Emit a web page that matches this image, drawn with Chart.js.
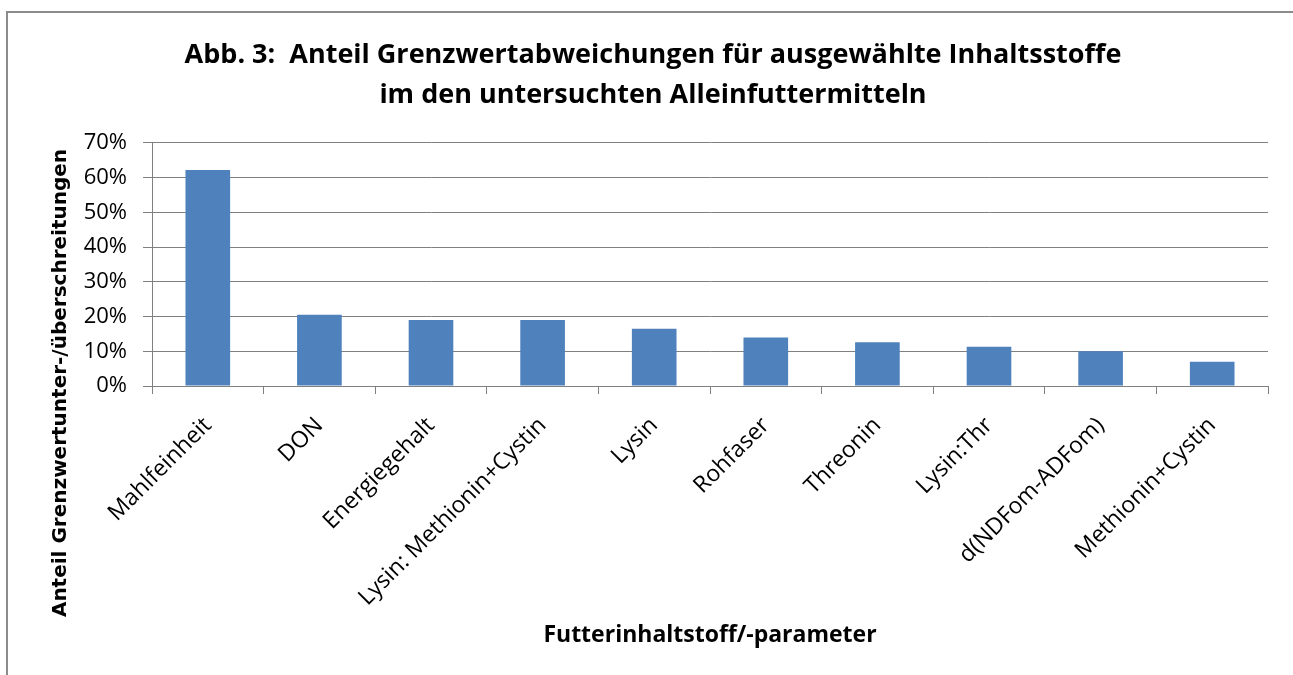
<!DOCTYPE html>
<html>
<head>
<meta charset="utf-8">
<script src="https://cdn.jsdelivr.net/npm/chart.js@4/dist/chart.umd.min.js"></script>
<style>
  html, body { margin: 0; padding: 0; background: #fff; }
  #wrap { width: 1293px; height: 675px; }
</style>
</head>
<body>
<div id="wrap"><canvas id="chart"></canvas></div>
<script>
var titleLines = [
  "Abb. 3:  Anteil Grenzwertabweichungen für ausgewählte Inhaltsstoffe",
  "im den untersuchten Alleinfuttermitteln"
];
var yTitle = "Anteil Grenzwertunter-/überschreitungen";
var xTitle = "Futterinhaltstoff/-parameter";

var categories = [
  "Mahlfeinheit",
  "DON",
  "Energiegehalt",
  "Lysin: Methionin+Cystin",
  "Lysin",
  "Rohfaser",
  "Threonin",
  "Lysin:Thr",
  "d(NDFom-ADFom)",
  "Methionin+Cystin"
];
var shares = [62.2, 20.5, 19.0, 19.0, 16.5, 14.0, 12.6, 11.3, 10.0, 7.0];

var yMin = 0, yMax = 70, yStep = 10;

var gridGray = "#808080";

// frame round the chart and the y title (centred over plot + labels like Excel)
var extras = {
  id: "extras",
  afterDraw: function(chart) {
    var ctx = chart.ctx;
    ctx.save();
    ctx.strokeStyle = "#8c8c8c";
    ctx.lineWidth = 2;
    ctx.beginPath();
    ctx.moveTo(7, 675);
    ctx.lineTo(7, 12);
    ctx.lineTo(1293, 12);
    ctx.stroke();

    ctx.translate(61, 383);
    ctx.rotate(-Math.PI / 2);
    ctx.fillStyle = "#000";
    ctx.font = "bold 20px 'DejaVu Sans'";
    ctx.textAlign = "center";
    ctx.textBaseline = "middle";
    ctx.fillText(yTitle, 0, 0);
    ctx.restore();
  }
};

var ctx = document.getElementById("chart").getContext("2d");
new Chart(ctx, {
  type: "bar",
  data: {
    labels: categories,
    datasets: [
      {
        data: shares,
        backgroundColor: "#4F81BD",
        borderWidth: 0,
        barPercentage: 0.4,
        categoryPercentage: 1
      }
    ]
  },
  plugins: [extras],
  options: {
    responsive: true,
    maintainAspectRatio: false,
    animation: false,
    layout: { padding: { left: 38, right: 25, top: 0, bottom: 0 } },
    plugins: {
      legend: { display: false },
      tooltip: { enabled: false },
      title: {
        display: true,
        text: titleLines,
        color: "#000",
        font: { family: "'Open Sans'", size: 27, weight: "bold", lineHeight: 1.48 },
        padding: { top: 35, bottom: 28 }
      }
    },
    scales: {
      x: {
        afterFit: function(scale) { scale.height = 289; },
        grid: {
          display: true,
          drawOnChartArea: false,
          drawTicks: true,
          tickLength: 8,
          offset: true,
          color: gridGray
        },
        border: { display: true, color: gridGray, width: 1 },
        ticks: {
          autoSkip: false,
          minRotation: 45,
          maxRotation: 45,
          padding: 18,
          color: "#000",
          font: { family: "'Open Sans'", size: 23 }
        },
        title: {
          display: true,
          text: xTitle,
          color: "#000",
          font: { family: "'Open Sans'", size: 23, weight: "bold" },
          padding: { top: 0, bottom: 26 }
        }
      },
      y: {
        min: yMin,
        max: yMax,
        afterFit: function(scale) { scale.width = 114; },
        grid: {
          color: gridGray,
          drawTicks: true,
          tickLength: 9
        },
        border: { display: true, color: gridGray, width: 1 },
        ticks: {
          stepSize: yStep,
          padding: 16,
          color: "#000",
          font: { family: "'Open Sans'", size: 22 },
          callback: function(v) { return v + "%"; }
        }
      }
    }
  }
});
</script>
</body>
</html>
